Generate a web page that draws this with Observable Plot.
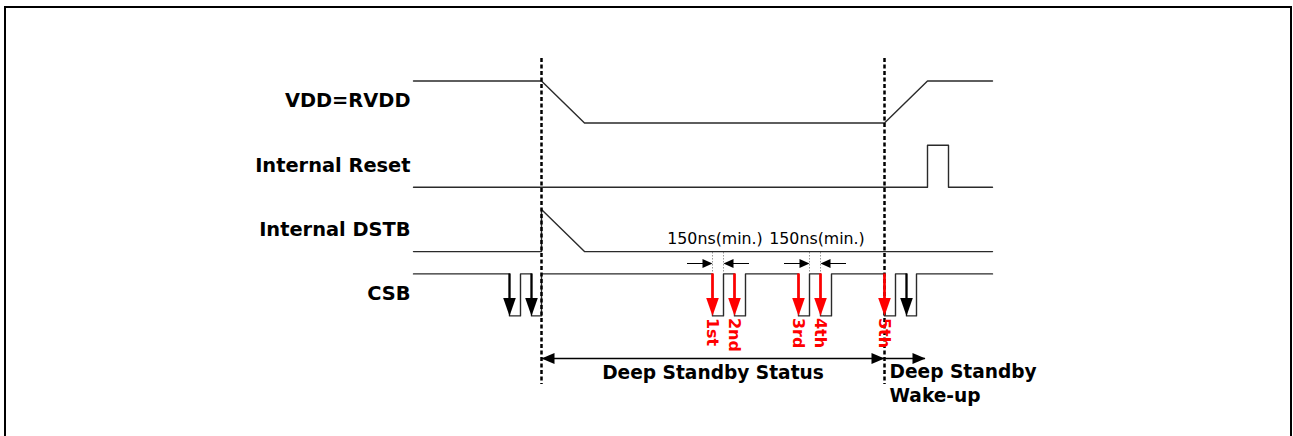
<!DOCTYPE html>
<html>
<head>
<meta charset="utf-8">
<script src="https://cdn.jsdelivr.net/npm/d3@7"></script>
<script src="https://cdn.jsdelivr.net/npm/@observablehq/plot@0.6"></script>
<style>
  body { margin: 0; background: #fff; }
  #chart { position: absolute; left: 0; top: 0; }
  #frame { position: absolute; left: 4px; top: 6px; width: 1288px; height: 440px;
           border: 2px solid #000; border-bottom: none; box-sizing: border-box; pointer-events: none; z-index: 2; }
</style>
</head>
<body>
<div id="chart"></div>
<div id="frame"></div>
<script>
// ---- data (time positions along the diagram, logic levels) ----
const signals = ["VDD=RVDD", "Internal Reset", "Internal DSTB", "CSB"];
const vddTime = [413, 541, 584, 884, 927, 992];
const vddLevel = [1, 1, 0, 0, 1, 1];
const resetTime = [413, 927, 927, 948, 948, 992];
const resetLevel = [0, 0, 1, 1, 0, 0];
const dstbTime = [413, 541, 541, 584, 992];
const dstbLevel = [0, 0, 1, 0, 0];
const csbRange = [413, 992];
const csbPulseFall = [509, 531, 712, 734, 798, 820, 884, 906];
const csbPulseRise = [520, 541, 723, 745, 809, 831, 895, 916];
const blackCommands = [509, 531, 906];
const redCommands = [712, 734, 798, 820, 884];
const redLabels = ["1st", "2nd", "3rd", "4th", "5th"];
const dividerTimes = [541, 884];
const minFrom = [712, 809];
const minTo = [723, 820];
const minLabels = ["150ns(min.)", "150ns(min.)"];
const spanStart = [541, 884];
const spanEnd = [884, 925];
const spanLabels = ["Deep Standby Status", "Deep Standby\nWake-up"];

// ---- layout ----
const laneTop = 122.5, laneGap = 64.3, amp = 42;
const laneY = (i, level) => laneTop + laneGap * i - level * amp;
const csbI = 3;
const spanY = 358, minY = 263;
const FONT = "DejaVu Sans";

function head(dir, len, hw) {
  return {draw(ctx) {
    ctx.moveTo(0, 0);
    if (dir === "down") { ctx.lineTo(-hw, -len); ctx.lineTo(hw, -len); }
    else if (dir === "right") { ctx.lineTo(-len, -hw); ctx.lineTo(-len, hw); }
    else { ctx.lineTo(len, -hw); ctx.lineTo(len, hw); }
    ctx.closePath();
  }};
}

// waveform points
const wave = [];
const push = (i, ts, ls) => ts.forEach((t, k) => wave.push({signal: signals[i], t, y: laneY(i, ls[k])}));
push(0, vddTime, vddLevel);
push(1, resetTime, resetLevel);
push(2, dstbTime, dstbLevel);
{
  const ts = [csbRange[0]], ls = [1];
  csbPulseFall.forEach((f, k) => { ts.push(f, f, csbPulseRise[k], csbPulseRise[k]); ls.push(1, 0, 0, 1); });
  ts.push(csbRange[1]); ls.push(1);
  push(3, ts, ls);
}

const hi = laneY(csbI, 1), lo = laneY(csbI, 0);
const headLen = 18, headHW = 6.3;

const minArrows = [];
minFrom.forEach((f, k) => {
  minArrows.push({x1: f - 25, x2: f, dir: "right"});
  minArrows.push({x1: minTo[k] + 26, x2: minTo[k], dir: "left"});
});
const spanArrowHeads = [
  {x: spanStart[0], dir: "left"}, {x: spanEnd[0], dir: "right"}, {x: spanEnd[1], dir: "right"}
];

const chart = Plot.plot({
  width: 1293, height: 436, margin: 0,
  x: {domain: [0, 1293], range: [0, 1293], axis: null},
  y: {domain: [0, 436], range: [0, 436], axis: null},
  marks: [
    // dotted extension lines for min widths
    Plot.ruleX([...minFrom, ...minTo], {x: d => d, y1: 252, y2: hi, stroke: "#999", strokeWidth: 1, strokeDasharray: "1.5,1.5"}),
    // waveforms
    Plot.line(wave, {x: "t", y: "y", z: "signal", stroke: "#2a2a2a", strokeWidth: 1.4}),
    // dividers
    Plot.ruleX(dividerTimes, {x: d => d, y1: 58, y2: 384, stroke: "#000", strokeWidth: 2.5, strokeDasharray: "4,2.5"}),
    // command arrows on CSB
    Plot.ruleX(blackCommands, {x: d => d, y1: hi, y2: lo - headLen + 1, stroke: "#000", strokeWidth: 2.2}),
    Plot.dot(blackCommands, {x: d => d, y: lo, symbol: head("down", headLen, headHW), fill: "#000", stroke: "none"}),
    Plot.ruleX(redCommands, {x: d => d, y1: hi, y2: lo - headLen + 1, stroke: "#ff0000", strokeWidth: 2.7}),
    Plot.dot(redCommands, {x: d => d, y: lo, symbol: head("down", headLen, headHW), fill: "#ff0000", stroke: "none"}),
    Plot.text(redCommands, {x: d => d, y: lo + 2, text: (d, i) => redLabels[i], rotate: 90, textAnchor: "start", lineAnchor: "middle",
      fill: "#ff0000", fontFamily: FONT, fontWeight: "bold", fontSize: 16}),
    // min width dimension arrows
    Plot.ruleY(minArrows, {y: minY, x1: "x1", x2: d => d.x2 + (d.dir === "right" ? -8 : 8), stroke: "#000", strokeWidth: 1}),
    Plot.dot(minArrows.filter(d => d.dir === "right"), {x: "x2", y: minY, symbol: head("right", 10, 4.5), fill: "#000", stroke: "none"}),
    Plot.dot(minArrows.filter(d => d.dir === "left"), {x: "x2", y: minY, symbol: head("left", 10, 4.5), fill: "#000", stroke: "none"}),
    Plot.text(minLabels, {x: (d, i) => (minFrom[i] + minTo[i]) / 2 + (i ? 2 : -3), y: 238, text: d => d, fill: "#000",
      fontFamily: FONT, fontSize: 15.8, textAnchor: "middle"}),
    // span arrows
    Plot.ruleY(spanStart, {y: spanY, x1: d => d, x2: (d, i) => spanEnd[i], stroke: "#000", strokeWidth: 1.3}),
    Plot.dot(spanArrowHeads.filter(d => d.dir === "left"), {x: "x", y: spanY, symbol: head("left", 13, 5.5), fill: "#000", stroke: "none"}),
    Plot.dot(spanArrowHeads.filter(d => d.dir === "right"), {x: "x", y: spanY, symbol: head("right", 13, 5.5), fill: "#000", stroke: "none"}),
    Plot.text([spanLabels[0]], {x: (spanStart[0] + spanEnd[0]) / 2, y: 373, text: d => d, fill: "#000",
      fontFamily: FONT, fontWeight: "bold", fontSize: 18.6, textAnchor: "middle"}),
    Plot.text([spanLabels[1]], {x: spanStart[1] + 5, y: 361, text: d => d, fill: "#000",
      fontFamily: FONT, fontWeight: "bold", fontSize: 18.6, textAnchor: "start", lineAnchor: "top", lineHeight: 1.28}),
    // signal labels
    Plot.text(signals, {x: 410, y: (d, i) => laneY(i, 0.5) - 1, text: d => d, fill: "#000",
      fontFamily: FONT, fontWeight: "bold", fontSize: 19.4, textAnchor: "end"})
  ]
});
document.getElementById("chart").appendChild(chart);
</script>
</body>
</html>
